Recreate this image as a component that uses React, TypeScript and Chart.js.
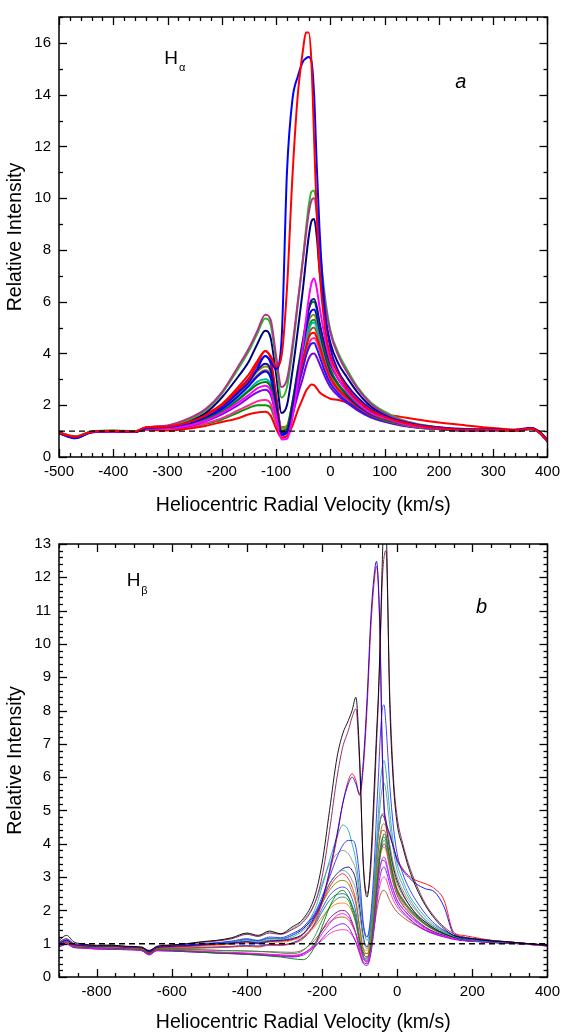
import React, { useEffect, useRef } from "react";
import { Chart, registerables } from "chart.js";
Chart.register(...registerables);

const FONT = "'Liberation Sans', Arial, sans-serif";

// ---------------- Panel a (H-alpha) ----------------
const X_A = [-500, -470, -440, -400, -360, -340, -300, -260, -230, -200, -170, -150, -135, -120, -110, -100, -90, -80, -70, -60, -50, -45, -40, -35, -30, -25, -20, -10, 0, 15, 30, 50, 75, 100, 130, 160, 200, 250, 300, 340, 370, 385, 400];
const X_TICKS_A = [-500, -400, -300, -200, -100, 0, 100, 200, 300, 400];
const Y_TICKS_A = [0, 2, 4, 6, 8, 10, 12, 14, 16];

const A_RED_BIG = [0.93, 0.78, 0.97, 1.0, 0.98, 1.15, 1.18, 1.35, 1.6, 2.0, 2.6, 3.0, 3.6, 4.1, 3.9, 3.5, 3.9, 6.5, 10.8, 14.0, 15.8, 16.4, 16.4, 15.3, 12.3, 9.3, 7.2, 5.0, 3.9, 3.2, 2.7, 2.2, 1.8, 1.55, 1.35, 1.22, 1.12, 1.05, 1.05, 1.03, 1.1, 0.95, 0.62];
const A_BLUE_BIG = [0.92, 0.72, 0.96, 1.0, 0.97, 1.12, 1.16, 1.3, 1.55, 1.95, 2.5, 2.9, 3.4, 3.9, 3.7, 3.4, 4.5, 11.0, 13.8, 14.7, 15.3, 15.4, 15.45, 15.3, 14.0, 11.2, 8.8, 5.6, 4.2, 3.3, 2.8, 2.3, 1.85, 1.6, 1.38, 1.25, 1.15, 1.08, 1.07, 1.04, 1.12, 0.98, 0.65];
const A_GREEN = [0.95, 0.78, 0.98, 1.02, 1.0, 1.13, 1.2, 1.45, 1.8, 2.45, 3.4, 4.1, 4.75, 5.35, 5.1, 3.7, 2.3, 2.7, 4.1, 5.9, 7.8, 8.8, 9.7, 10.25, 10.3, 9.6, 8.2, 6.2, 4.9, 4.0, 3.4, 2.7, 2.1, 1.75, 1.45, 1.28, 1.15, 1.05, 1.05, 1.02, 1.1, 0.96, 0.64];
const A_PURPLE = [0.94, 0.77, 0.97, 1.01, 0.99, 1.14, 1.22, 1.5, 1.85, 2.5, 3.5, 4.2, 4.85, 5.5, 5.3, 3.9, 2.7, 3.0, 4.3, 6.0, 7.7, 8.6, 9.4, 9.9, 10.0, 9.4, 8.0, 6.0, 4.8, 3.9, 3.3, 2.65, 2.05, 1.7, 1.42, 1.26, 1.14, 1.05, 1.04, 1.02, 1.1, 0.95, 0.63];
const A_NAVY = [0.93, 0.75, 0.97, 1.0, 0.98, 1.12, 1.18, 1.4, 1.7, 2.3, 3.1, 3.7, 4.35, 4.88, 4.6, 3.2, 1.7, 2.0, 3.3, 4.9, 6.6, 7.6, 8.5, 9.1, 9.2, 8.5, 7.2, 5.5, 4.4, 3.6, 3.1, 2.5, 1.95, 1.65, 1.4, 1.24, 1.13, 1.05, 1.05, 1.03, 1.1, 0.96, 0.62];
const A_MAGENTA = [0.92, 0.74, 0.96, 0.99, 0.97, 1.1, 1.12, 1.22, 1.4, 1.7, 2.1, 2.4, 2.65, 2.75, 2.55, 1.6, 0.68, 0.7, 1.5, 2.9, 4.4, 5.3, 6.1, 6.7, 6.9, 6.5, 5.8, 4.6, 3.7, 3.0, 2.55, 2.1, 1.7, 1.5, 1.3, 1.18, 1.1, 1.03, 1.04, 1.02, 1.09, 0.95, 0.6];
const A_NAVY2 = [0.93, 0.76, 0.97, 1.0, 0.98, 1.12, 1.16, 1.3, 1.55, 1.95, 2.5, 2.95, 3.35, 3.6, 3.35, 2.1, 0.95, 1.0, 2.0, 3.3, 4.5, 5.1, 5.7, 6.05, 6.1, 5.8, 5.2, 4.3, 3.6, 3.0, 2.6, 2.15, 1.75, 1.5, 1.32, 1.2, 1.11, 1.04, 1.05, 1.03, 1.1, 0.96, 0.62];
const A_DKGREEN = [0.94, 0.77, 0.98, 1.0, 0.99, 1.12, 1.15, 1.25, 1.45, 1.75, 2.2, 2.55, 2.8, 2.9, 2.7, 1.8, 1.0, 1.1, 2.1, 3.4, 4.6, 5.2, 5.7, 5.95, 6.0, 5.7, 5.1, 4.1, 3.4, 2.8, 2.45, 2.05, 1.68, 1.45, 1.28, 1.17, 1.09, 1.03, 1.04, 1.02, 1.09, 0.95, 0.61];
const A_BLUE3 = [0.92, 0.73, 0.96, 0.99, 0.97, 1.11, 1.15, 1.28, 1.5, 1.85, 2.35, 2.75, 3.1, 3.3, 3.05, 1.9, 0.85, 0.95, 1.9, 3.1, 4.3, 4.9, 5.4, 5.65, 5.7, 5.45, 4.9, 4.0, 3.3, 2.8, 2.4, 2.0, 1.66, 1.46, 1.3, 1.18, 1.1, 1.04, 1.05, 1.02, 1.1, 0.95, 0.62];
const A_OLIVE = [0.95, 0.78, 0.98, 1.01, 0.99, 1.13, 1.17, 1.3, 1.55, 1.9, 2.45, 2.9, 3.3, 3.5, 3.3, 2.2, 1.1, 1.2, 2.1, 3.2, 4.3, 4.8, 5.25, 5.45, 5.5, 5.25, 4.8, 3.9, 3.25, 2.7, 2.35, 1.95, 1.62, 1.42, 1.26, 1.15, 1.08, 1.03, 1.04, 1.02, 1.08, 0.94, 0.6];
const A_RED2 = [0.93, 0.76, 0.97, 1.0, 0.98, 1.13, 1.2, 1.38, 1.65, 2.05, 2.7, 3.2, 3.7, 4.1, 3.8, 2.4, 1.0, 1.05, 1.9, 2.9, 3.8, 4.2, 4.6, 4.78, 4.8, 4.6, 4.3, 3.6, 3.05, 2.6, 2.3, 1.95, 1.62, 1.43, 1.28, 1.17, 1.1, 1.04, 1.05, 1.03, 1.1, 0.96, 0.62];
const A_BLUE4 = [0.92, 0.74, 0.96, 0.99, 0.97, 1.12, 1.17, 1.33, 1.6, 2.0, 2.6, 3.05, 3.55, 3.9, 3.6, 2.3, 1.0, 1.05, 1.8, 2.7, 3.5, 3.9, 4.2, 4.38, 4.4, 4.2, 3.9, 3.3, 2.85, 2.45, 2.15, 1.85, 1.55, 1.38, 1.25, 1.15, 1.08, 1.03, 1.04, 1.02, 1.09, 0.95, 0.61];
const A_VIOLET = [0.94, 0.77, 0.97, 1.0, 0.98, 1.1, 1.12, 1.2, 1.38, 1.65, 2.0, 2.3, 2.5, 2.6, 2.4, 1.6, 0.9, 0.95, 1.6, 2.4, 3.1, 3.5, 3.8, 3.97, 4.0, 3.85, 3.6, 3.1, 2.7, 2.35, 2.1, 1.8, 1.52, 1.36, 1.22, 1.13, 1.07, 1.02, 1.03, 1.01, 1.08, 0.94, 0.6];
const A_RED3 = [0.95, 0.8, 0.98, 1.0, 0.97, 1.05, 1.02, 1.1, 1.2, 1.35, 1.5, 1.65, 1.72, 1.75, 1.6, 1.1, 0.75, 0.8, 1.2, 1.8, 2.3, 2.55, 2.7, 2.8, 2.78, 2.65, 2.5, 2.35, 2.25, 2.2, 2.1, 1.92, 1.75, 1.65, 1.55, 1.45, 1.33, 1.22, 1.12, 1.06, 1.12, 0.98, 0.66];
const A_CYAN = [0.93, 0.75, 0.97, 1.0, 0.98, 1.11, 1.14, 1.26, 1.48, 1.8, 2.25, 2.6, 2.9, 3.0, 2.8, 1.85, 1.0, 1.05, 1.9, 3.0, 4.0, 4.5, 4.9, 5.15, 5.2, 5.0, 4.6, 3.8, 3.2, 2.7, 2.35, 1.98, 1.64, 1.44, 1.28, 1.16, 1.09, 1.03, 1.04, 1.02, 1.09, 0.95, 0.61];
const A_BROWN = [0.94, 0.76, 0.97, 1.0, 0.98, 1.12, 1.16, 1.3, 1.52, 1.88, 2.4, 2.8, 3.15, 3.35, 3.15, 2.1, 1.15, 1.2, 2.0, 3.0, 3.9, 4.4, 4.75, 4.95, 5.0, 4.8, 4.45, 3.7, 3.1, 2.65, 2.3, 1.95, 1.62, 1.42, 1.27, 1.16, 1.09, 1.03, 1.04, 1.02, 1.09, 0.95, 0.61];
const A_PINK = [0.93, 0.76, 0.97, 0.99, 0.97, 1.08, 1.1, 1.16, 1.3, 1.5, 1.8, 2.0, 2.15, 2.2, 2.05, 1.35, 0.75, 0.82, 1.6, 2.6, 3.5, 3.95, 4.35, 4.55, 4.6, 4.45, 4.15, 3.5, 3.0, 2.55, 2.25, 1.9, 1.58, 1.4, 1.25, 1.15, 1.08, 1.02, 1.03, 1.01, 1.08, 0.94, 0.6];
const A_GREEN2 = [0.94, 0.77, 0.97, 1.0, 0.98, 1.09, 1.1, 1.15, 1.28, 1.45, 1.72, 1.9, 2.0, 2.0, 1.9, 1.3, 0.85, 0.95, 1.9, 3.0, 4.1, 4.6, 5.0, 5.25, 5.3, 5.1, 4.7, 3.85, 3.2, 2.7, 2.35, 1.98, 1.63, 1.43, 1.27, 1.16, 1.09, 1.03, 1.04, 1.02, 1.09, 0.95, 0.61];

// ---------------- Panel b (H-beta) ----------------
const X_B = [-900, -880, -860, -840, -800, -760, -720, -680, -660, -640, -600, -560, -520, -480, -440, -400, -370, -340, -310, -280, -250, -220, -200, -180, -160, -145, -130, -120, -110, -100, -90, -80, -70, -60, -55, -50, -45, -40, -35, -30, -20, -10, 0, 15, 30, 50, 75, 100, 125, 150, 175, 200, 250, 300, 350, 400];
const X_TICKS_B = [-800, -600, -400, -200, 0, 200, 400];
const Y_TICKS_B = [0, 1, 2, 3, 4, 5, 6, 7, 8, 9, 10, 11, 12, 13];

const B_BLACK = [1.1, 1.25, 1.05, 1.0, 0.95, 0.96, 0.92, 0.9, 0.78, 0.92, 0.96, 1.0, 1.06, 1.1, 1.18, 1.32, 1.25, 1.38, 1.3, 1.5, 1.75, 2.4, 3.4, 5.0, 6.6, 7.3, 7.7, 8.0, 8.4, 6.6, 3.3, 2.4, 3.6, 6.0, 7.3, 8.5, 10.2, 12.3, 13.8, 13.6, 8.3, 5.8, 4.6, 3.9, 3.3, 2.7, 2.15, 1.75, 1.45, 1.25, 1.18, 1.15, 1.08, 1.05, 1.0, 0.95];
const B_DKMAGENTA = [1.05, 1.15, 1.0, 0.98, 0.93, 0.94, 0.9, 0.88, 0.8, 0.9, 0.95, 0.98, 1.04, 1.08, 1.15, 1.28, 1.22, 1.32, 1.28, 1.42, 1.65, 2.2, 3.0, 4.4, 6.0, 6.9, 7.4, 7.8, 8.05, 6.4, 3.4, 2.5, 3.3, 5.6, 7.0, 8.3, 10.0, 11.8, 12.6, 12.8, 8.6, 6.0, 4.8, 4.0, 3.4, 2.8, 2.2, 1.8, 1.5, 1.3, 1.2, 1.16, 1.1, 1.05, 1.0, 0.95];
const B_BLUE_BIG = [1.0, 1.1, 0.98, 0.95, 0.92, 0.93, 0.9, 0.88, 0.75, 0.88, 0.92, 0.94, 0.97, 1.0, 1.02, 1.06, 1.02, 1.08, 1.1, 1.15, 1.3, 1.8, 2.3, 3.2, 4.3, 5.2, 5.8, 6.0, 5.8, 5.5, 6.5, 8.4, 10.8, 12.2, 12.48, 11.8, 10.0, 7.0, 5.2, 4.7, 4.3, 3.9, 3.5, 3.2, 3.0, 2.8, 2.65, 2.55, 2.1, 1.3, 1.2, 1.15, 1.1, 1.05, 1.0, 0.96];
const B_RED_BIG = [0.98, 1.05, 0.95, 0.93, 0.9, 0.92, 0.88, 0.86, 0.72, 0.86, 0.9, 0.92, 0.95, 0.98, 1.0, 1.05, 1.0, 1.06, 1.08, 1.12, 1.28, 1.75, 2.25, 3.1, 4.2, 5.2, 5.9, 6.1, 5.9, 5.45, 6.3, 8.1, 10.5, 12.0, 12.33, 11.7, 9.8, 6.8, 5.0, 4.6, 4.25, 3.9, 3.55, 3.25, 3.05, 2.9, 2.8, 2.65, 2.3, 1.35, 1.25, 1.2, 1.1, 1.05, 1.0, 0.95];
const B_BLUE2 = [1.02, 1.12, 0.97, 0.95, 0.92, 0.93, 0.9, 0.88, 0.78, 0.9, 0.93, 0.96, 1.0, 1.03, 1.08, 1.15, 1.1, 1.2, 1.18, 1.3, 1.5, 1.9, 2.4, 3.0, 3.6, 3.95, 4.1, 4.1, 3.9, 3.0, 1.6, 1.2, 1.9, 3.6, 4.9, 6.0, 7.2, 8.0, 8.17, 7.6, 5.8, 4.5, 3.7, 3.1, 2.7, 2.3, 1.9, 1.6, 1.4, 1.25, 1.15, 1.12, 1.07, 1.04, 1.0, 0.95];
const B_CYAN = [0.98, 1.08, 0.96, 0.94, 0.9, 0.92, 0.88, 0.86, 0.76, 0.88, 0.92, 0.95, 0.98, 1.02, 1.06, 1.12, 1.08, 1.16, 1.15, 1.25, 1.5, 2.0, 2.7, 3.5, 4.2, 4.56, 4.4, 4.0, 3.5, 2.6, 1.5, 1.1, 1.6, 3.0, 4.0, 4.9, 5.8, 6.3, 6.5, 6.2, 5.0, 4.0, 3.4, 2.9, 2.5, 2.15, 1.8, 1.55, 1.38, 1.24, 1.15, 1.12, 1.07, 1.04, 1.0, 0.95];
const B_TEAL = [0.96, 1.05, 0.95, 0.93, 0.9, 0.91, 0.88, 0.86, 0.74, 0.87, 0.91, 0.93, 0.96, 1.0, 1.03, 1.08, 1.05, 1.12, 1.1, 1.2, 1.4, 1.8, 2.3, 2.8, 3.1, 3.2, 3.1, 2.9, 2.6, 1.9, 1.1, 0.85, 1.4, 2.8, 3.7, 4.5, 5.2, 5.65, 5.82, 5.6, 4.6, 3.8, 3.2, 2.75, 2.4, 2.05, 1.72, 1.5, 1.34, 1.22, 1.14, 1.1, 1.06, 1.03, 0.99, 0.94];
const B_GRAY = [1.05, 1.15, 1.0, 0.97, 0.95, 0.95, 0.92, 0.9, 0.8, 0.92, 0.96, 1.0, 1.05, 1.1, 1.16, 1.3, 1.22, 1.35, 1.3, 1.45, 1.7, 2.2, 2.8, 3.4, 3.7, 3.8, 3.7, 3.5, 3.2, 2.4, 1.5, 1.2, 1.7, 3.0, 3.8, 4.3, 4.7, 4.9, 4.9, 4.7, 4.0, 3.4, 3.0, 2.6, 2.3, 2.0, 1.7, 1.5, 1.35, 1.24, 1.16, 1.12, 1.07, 1.04, 1.0, 0.95];
const B_NAVY = [1.0, 1.1, 0.97, 0.95, 0.92, 0.93, 0.9, 0.88, 0.77, 0.89, 0.93, 0.95, 0.98, 1.02, 1.05, 1.12, 1.08, 1.16, 1.14, 1.25, 1.45, 1.85, 2.3, 2.8, 3.1, 3.25, 3.3, 3.2, 2.9, 2.1, 1.2, 0.9, 1.5, 2.9, 3.7, 4.3, 4.7, 4.86, 4.8, 4.6, 3.9, 3.3, 2.9, 2.5, 2.2, 1.9, 1.65, 1.45, 1.3, 1.2, 1.13, 1.1, 1.06, 1.03, 1.0, 0.95];
const B_GREEN = [0.95, 1.05, 0.92, 0.9, 0.88, 0.86, 0.85, 0.82, 0.7, 0.82, 0.8, 0.78, 0.75, 0.72, 0.7, 0.68, 0.66, 0.63, 0.6, 0.55, 0.52, 0.9, 1.5, 2.1, 2.5, 2.6, 2.4, 2.1, 1.7, 1.1, 0.7, 0.6, 0.9, 2.0, 2.6, 3.2, 3.7, 4.1, 4.3, 4.2, 3.6, 3.0, 2.6, 2.3, 2.1, 1.85, 1.6, 1.42, 1.3, 1.2, 1.12, 1.1, 1.05, 1.03, 0.99, 0.94];
const B_MAGENTA = [0.92, 1.0, 0.9, 0.88, 0.85, 0.84, 0.83, 0.8, 0.68, 0.8, 0.8, 0.78, 0.77, 0.75, 0.74, 0.72, 0.7, 0.68, 0.66, 0.64, 0.7, 0.95, 1.3, 1.6, 1.85, 1.9, 1.8, 1.6, 1.3, 0.9, 0.55, 0.45, 0.8, 1.8, 2.4, 2.9, 3.3, 3.55, 3.6, 3.5, 3.0, 2.6, 2.3, 2.05, 1.85, 1.65, 1.45, 1.32, 1.22, 1.15, 1.1, 1.08, 1.04, 1.02, 0.98, 0.93];
const B_VIOLET = [0.9, 0.98, 0.88, 0.87, 0.84, 0.83, 0.82, 0.79, 0.66, 0.79, 0.78, 0.76, 0.74, 0.72, 0.7, 0.68, 0.66, 0.64, 0.62, 0.6, 0.66, 0.9, 1.15, 1.4, 1.55, 1.6, 1.5, 1.3, 1.05, 0.7, 0.4, 0.35, 0.7, 1.6, 2.2, 2.7, 3.05, 3.25, 3.3, 3.2, 2.8, 2.45, 2.2, 1.95, 1.78, 1.58, 1.4, 1.28, 1.2, 1.13, 1.09, 1.07, 1.03, 1.01, 0.98, 0.93];
const B_PINK = [0.93, 1.02, 0.9, 0.88, 0.86, 0.85, 0.84, 0.8, 0.7, 0.81, 0.8, 0.79, 0.77, 0.75, 0.73, 0.71, 0.7, 0.68, 0.66, 0.65, 0.72, 0.92, 1.1, 1.3, 1.4, 1.42, 1.38, 1.25, 1.05, 0.75, 0.52, 0.5, 0.8, 1.6, 2.1, 2.5, 2.8, 2.95, 3.0, 2.95, 2.6, 2.3, 2.1, 1.9, 1.75, 1.58, 1.42, 1.3, 1.22, 1.15, 1.1, 1.08, 1.04, 1.02, 0.98, 0.94];
const B_OLIVE = [0.97, 1.08, 0.95, 0.93, 0.9, 0.9, 0.88, 0.85, 0.75, 0.87, 0.9, 0.92, 0.95, 0.98, 1.02, 1.06, 1.03, 1.1, 1.08, 1.15, 1.3, 1.7, 2.2, 2.6, 2.85, 2.9, 2.8, 2.55, 2.2, 1.5, 0.85, 0.7, 1.2, 2.5, 3.3, 3.9, 4.3, 4.55, 4.6, 4.5, 3.8, 3.2, 2.8, 2.45, 2.2, 1.9, 1.65, 1.45, 1.32, 1.22, 1.14, 1.1, 1.06, 1.03, 1.0, 0.95];
const B_SEAGREEN = [0.94, 1.03, 0.92, 0.9, 0.87, 0.87, 0.86, 0.83, 0.72, 0.84, 0.84, 0.83, 0.82, 0.8, 0.79, 0.78, 0.77, 0.75, 0.72, 0.7, 0.8, 1.2, 1.7, 2.1, 2.35, 2.4, 2.3, 2.0, 1.6, 1.0, 0.6, 0.5, 0.9, 2.0, 2.7, 3.3, 3.75, 4.0, 4.1, 4.0, 3.4, 2.9, 2.55, 2.25, 2.05, 1.8, 1.57, 1.4, 1.28, 1.18, 1.12, 1.09, 1.05, 1.02, 0.99, 0.94];
const B_ORANGE = [0.96, 1.06, 0.94, 0.92, 0.89, 0.89, 0.87, 0.84, 0.74, 0.86, 0.88, 0.9, 0.92, 0.95, 0.98, 1.02, 1.0, 1.05, 1.04, 1.1, 1.22, 1.5, 1.8, 2.05, 2.2, 2.22, 2.15, 1.95, 1.65, 1.2, 0.85, 0.8, 1.2, 2.2, 2.8, 3.3, 3.65, 3.85, 3.9, 3.8, 3.3, 2.85, 2.5, 2.2, 2.0, 1.78, 1.56, 1.4, 1.28, 1.18, 1.12, 1.09, 1.05, 1.02, 0.99, 0.94];
const B_PURPLE = [0.91, 0.99, 0.89, 0.87, 0.84, 0.83, 0.82, 0.79, 0.67, 0.79, 0.78, 0.76, 0.74, 0.72, 0.71, 0.7, 0.68, 0.66, 0.64, 0.62, 0.7, 1.0, 1.4, 1.75, 1.95, 2.0, 1.9, 1.65, 1.3, 0.8, 0.45, 0.4, 0.8, 1.9, 2.6, 3.2, 3.65, 3.9, 4.0, 3.9, 3.3, 2.8, 2.45, 2.15, 1.95, 1.72, 1.5, 1.35, 1.25, 1.16, 1.1, 1.08, 1.04, 1.02, 0.98, 0.93];
const B_RED2 = [0.95, 1.04, 0.93, 0.91, 0.88, 0.88, 0.86, 0.83, 0.72, 0.85, 0.86, 0.86, 0.87, 0.88, 0.9, 0.92, 0.9, 0.95, 0.95, 1.0, 1.15, 1.6, 2.2, 2.7, 3.0, 3.1, 2.95, 2.7, 2.3, 1.5, 0.75, 0.6, 1.1, 2.4, 3.2, 3.8, 4.2, 4.4, 4.4, 4.3, 3.6, 3.05, 2.65, 2.35, 2.1, 1.85, 1.6, 1.42, 1.3, 1.2, 1.13, 1.1, 1.06, 1.03, 0.99, 0.94];
const B_BLUE3 = [0.97, 1.07, 0.94, 0.92, 0.89, 0.9, 0.87, 0.84, 0.73, 0.86, 0.87, 0.88, 0.89, 0.9, 0.92, 0.95, 0.93, 0.98, 0.97, 1.02, 1.2, 1.6, 2.05, 2.45, 2.65, 2.7, 2.6, 2.35, 1.95, 1.2, 0.6, 0.45, 0.9, 1.9, 2.55, 3.05, 3.35, 3.5, 3.5, 3.4, 2.95, 2.6, 2.3, 2.05, 1.88, 1.68, 1.48, 1.34, 1.24, 1.16, 1.1, 1.08, 1.04, 1.02, 0.98, 0.94];
const B_DKCYAN = [0.96, 1.05, 0.93, 0.91, 0.88, 0.88, 0.86, 0.83, 0.73, 0.85, 0.86, 0.87, 0.88, 0.9, 0.91, 0.94, 0.92, 0.97, 0.96, 1.02, 1.18, 1.55, 1.95, 2.3, 2.48, 2.5, 2.4, 2.15, 1.8, 1.1, 0.62, 0.55, 1.0, 2.2, 2.9, 3.5, 3.9, 4.15, 4.2, 4.1, 3.5, 2.95, 2.6, 2.3, 2.05, 1.82, 1.58, 1.41, 1.29, 1.19, 1.12, 1.09, 1.05, 1.02, 0.99, 0.94];
const B_BROWN = [0.94, 1.03, 0.92, 0.9, 0.87, 0.87, 0.85, 0.82, 0.71, 0.83, 0.83, 0.82, 0.81, 0.8, 0.79, 0.78, 0.77, 0.76, 0.75, 0.74, 0.82, 1.1, 1.4, 1.65, 1.78, 1.8, 1.72, 1.55, 1.3, 0.95, 0.72, 0.7, 0.95, 1.6, 1.95, 2.25, 2.45, 2.58, 2.6, 2.55, 2.3, 2.1, 1.95, 1.8, 1.68, 1.55, 1.4, 1.3, 1.22, 1.15, 1.1, 1.08, 1.04, 1.02, 0.98, 0.94];

const CONTINUUM = 1;

type Series = { color: string; values: number[] };

const SERIES_A: Series[] = [
  { color: "#ff0000", values: A_RED_BIG },
  { color: "#0000ff", values: A_BLUE_BIG },
  { color: "#b2338a", values: A_PURPLE },
  { color: "#2db82d", values: A_GREEN },
  { color: "#000080", values: A_NAVY },
  { color: "#ff00ff", values: A_MAGENTA },
  { color: "#10109a", values: A_NAVY2 },
  { color: "#007800", values: A_DKGREEN },
  { color: "#0000ff", values: A_BLUE3 },
  { color: "#ff0000", values: A_RED2 },
  { color: "#8c8c14", values: A_OLIVE },
  { color: "#1e1ee6", values: A_BLUE4 },
  { color: "#7a00e6", values: A_VIOLET },
  { color: "#ff0000", values: A_RED3 },
  { color: "#00b4b4", values: A_CYAN },
  { color: "#9c5a2a", values: A_BROWN },
  { color: "#ff2a95", values: A_PINK },
  { color: "#009a00", values: A_GREEN2 },
];

const SERIES_B: Series[] = [
  { color: "#000000", values: B_BLACK },
  { color: "#8b1a5c", values: B_DKMAGENTA },
  { color: "#0000ff", values: B_BLUE_BIG },
  { color: "#ff0000", values: B_RED_BIG },
  { color: "#2a2aff", values: B_BLUE2 },
  { color: "#1aabab", values: B_CYAN },
  { color: "#5a9a9a", values: B_TEAL },
  { color: "#8a8a8a", values: B_GRAY },
  { color: "#000080", values: B_NAVY },
  { color: "#008000", values: B_GREEN },
  { color: "#ff00ff", values: B_MAGENTA },
  { color: "#8000ff", values: B_VIOLET },
  { color: "#ff3399", values: B_PINK },
  { color: "#808000", values: B_OLIVE },
  { color: "#2e8b57", values: B_SEAGREEN },
  { color: "#ff8000", values: B_ORANGE },
  { color: "#800080", values: B_PURPLE },
  { color: "#ff2020", values: B_RED2 },
  { color: "#4040ff", values: B_BLUE3 },
  { color: "#008080", values: B_DKCYAN },
  { color: "#a0522d", values: B_BROWN },
];

const frameTicks = {
  id: "frameTicks",
  afterDatasetsDraw(chart: any, _args: any, opts: any) {
    const { ctx, chartArea, scales } = chart;
    const { left, right, top, bottom } = chartArea;
    const x = scales.x;
    const y = scales.y;
    ctx.save();
    ctx.strokeStyle = "#000";
    ctx.lineWidth = 1.3;
    const seg = (x1: number, y1: number, x2: number, y2: number) => {
      ctx.beginPath();
      ctx.moveTo(x1, y1);
      ctx.lineTo(x2, y2);
      ctx.stroke();
    };
    const isMajor = (v: number, step: number) => Math.abs(v / step - Math.round(v / step)) < 1e-6;
    const nx = Math.round((x.max - x.min) / opts.xMinor);
    for (let i = 0; i <= nx; i++) {
      const v = x.min + i * opts.xMinor;
      const len = isMajor(v, opts.xMajor) ? 8 : 4;
      const px = Math.round(x.getPixelForValue(v)) + 0.5;
      seg(px, bottom, px, bottom - len);
      seg(px, top, px, top + len);
    }
    const ny = Math.round((y.max - y.min) / opts.yMinor);
    for (let i = 0; i <= ny; i++) {
      const v = y.min + i * opts.yMinor;
      const len = isMajor(v, opts.yMajor) ? 8 : 4;
      const py = Math.round(y.getPixelForValue(v)) + 0.5;
      seg(left, py, left + len, py);
      seg(right, py, right - len, py);
    }
    ctx.lineWidth = 1.5;
    ctx.strokeRect(left, top, right - left, bottom - top);
    ctx.restore();
  },
};

const panelText = {
  id: "panelText",
  afterDraw(chart: any, _args: any, opts: any) {
    const { ctx, scales } = chart;
    ctx.save();
    ctx.fillStyle = "#000";
    ctx.textAlign = "left";
    ctx.textBaseline = "alphabetic";
    for (const it of opts.items) {
      const px = scales.x.getPixelForValue(it.x);
      const py = scales.y.getPixelForValue(it.y);
      ctx.font = `${it.italic ? "italic " : ""}${it.size}px ${FONT}`;
      ctx.fillText(it.text, px, py);
      if (it.sub) {
        const w = ctx.measureText(it.text).width;
        ctx.font = `${it.subSize}px ${FONT}`;
        ctx.fillText(it.sub, px + w + 1, py + it.subDy);
      }
    }
    ctx.restore();
  },
};

type PanelSpec = {
  height: number;
  xs: number[];
  series: Series[];
  xMin: number;
  xMax: number;
  yMin: number;
  yMax: number;
  xTicks: number[];
  yTicks: number[];
  xMinor: number;
  xMajor: number;
  yMinor: number;
  yMajor: number;
  padTop: number;
  xAxisHeight: number;
  lineWidth: number;
  titleBottom: number;
  texts: any[];
};

function buildConfig(p: PanelSpec): any {
  const datasets: any[] = [
    {
      data: [
        { x: p.xMin, y: CONTINUUM },
        { x: p.xMax, y: CONTINUUM },
      ],
      borderColor: "#000",
      borderWidth: 1.4,
      borderDash: [6, 4],
      pointRadius: 0,
      fill: false,
    },
  ];
  for (const s of p.series) {
    datasets.push({
      data: p.xs.map((x, i) => ({ x, y: s.values[i] })),
      borderColor: s.color,
      borderWidth: p.lineWidth,
      pointRadius: 0,
      fill: false,
      cubicInterpolationMode: "monotone",
    });
  }
  return {
    type: "line",
    data: { datasets },
    options: {
      responsive: false,
      animation: false,
      devicePixelRatio: 1,
      layout: { padding: { top: p.padTop, right: 14, left: 0, bottom: 0 } },
      plugins: {
        legend: { display: false },
        tooltip: { enabled: false },
        frameTicks: { xMinor: p.xMinor, xMajor: p.xMajor, yMinor: p.yMinor, yMajor: p.yMajor },
        panelText: { items: p.texts },
      },
      scales: {
        x: {
          type: "linear",
          min: p.xMin,
          max: p.xMax,
          afterBuildTicks: (s: any) => {
            s.ticks = p.xTicks.map((v) => ({ value: v }));
          },
          afterFit: (s: any) => {
            s.height = p.xAxisHeight;
          },
          grid: { display: false, drawTicks: false },
          border: { display: false },
          ticks: {
            color: "#000",
            font: { family: FONT, size: 15 },
            padding: 6,
            maxRotation: 0,
            autoSkip: false,
          },
          title: {
            display: true,
            text: "Heliocentric Radial Velocity (km/s)",
            color: "#000",
            font: { family: FONT, size: 19.5 },
            padding: { top: 0, bottom: p.titleBottom },
          },
        },
        y: {
          type: "linear",
          min: p.yMin,
          max: p.yMax,
          afterBuildTicks: (s: any) => {
            s.ticks = p.yTicks.map((v) => ({ value: v }));
          },
          afterFit: (s: any) => {
            s.width = 59;
          },
          grid: { display: false, drawTicks: false },
          border: { display: false },
          ticks: {
            color: "#000",
            font: { family: FONT, size: 15 },
            padding: 8,
            autoSkip: false,
          },
          title: {
            display: true,
            text: "Relative Intensity",
            color: "#000",
            font: { family: FONT, size: 19.5 },
            padding: { top: 4, bottom: 0 },
          },
        },
      },
    },
    plugins: [frameTicks, panelText],
  };
}

const PANEL_A: PanelSpec = {
  height: 520,
  xs: X_A,
  series: SERIES_A,
  xMin: -500,
  xMax: 400,
  yMin: 0,
  yMax: 17,
  xTicks: X_TICKS_A,
  yTicks: Y_TICKS_A,
  xMinor: 20,
  xMajor: 100,
  yMinor: 1,
  yMajor: 2,
  padTop: 12,
  xAxisHeight: 63,
  lineWidth: 2,
  titleBottom: 3,
  texts: [
    { text: "H", sub: "α", x: -306, y: 15.17, size: 19, subSize: 11, subDy: 7 },
    { text: "a", italic: true, x: 230, y: 14.25, size: 20 },
  ],
};

const PANEL_B: PanelSpec = {
  height: 515,
  xs: X_B,
  series: SERIES_B,
  xMin: -900,
  xMax: 400,
  yMin: 0,
  yMax: 13,
  xTicks: X_TICKS_B,
  yTicks: Y_TICKS_B,
  xMinor: 50,
  xMajor: 200,
  yMinor: 0.2,
  yMajor: 1,
  padTop: 24,
  xAxisHeight: 58,
  lineWidth: 0.9,
  titleBottom: 1,
  texts: [
    { text: "H", sub: "β", x: -720, y: 11.75, size: 19, subSize: 11, subDy: 8 },
    { text: "b", italic: true, x: 210, y: 10.93, size: 20 },
  ],
};

function Panel({ spec, top }: { spec: PanelSpec; top: number }) {
  const ref = useRef<HTMLCanvasElement | null>(null);
  useEffect(() => {
    if (!ref.current) return;
    const chart = new Chart(ref.current, buildConfig(spec));
    return () => chart.destroy();
  }, [spec]);
  return (
    <canvas
      ref={ref}
      width={566}
      height={spec.height}
      style={{ position: "absolute", left: 0, top, width: 566, height: spec.height, display: "block" }}
    />
  );
}

export default function App() {
  return (
    <div style={{ position: "absolute", left: 0, top: 0, width: 566, height: 1035, background: "#fff", overflow: "hidden" }}>
      <Panel spec={PANEL_A} top={0} />
      <Panel spec={PANEL_B} top={520} />
    </div>
  );
}
